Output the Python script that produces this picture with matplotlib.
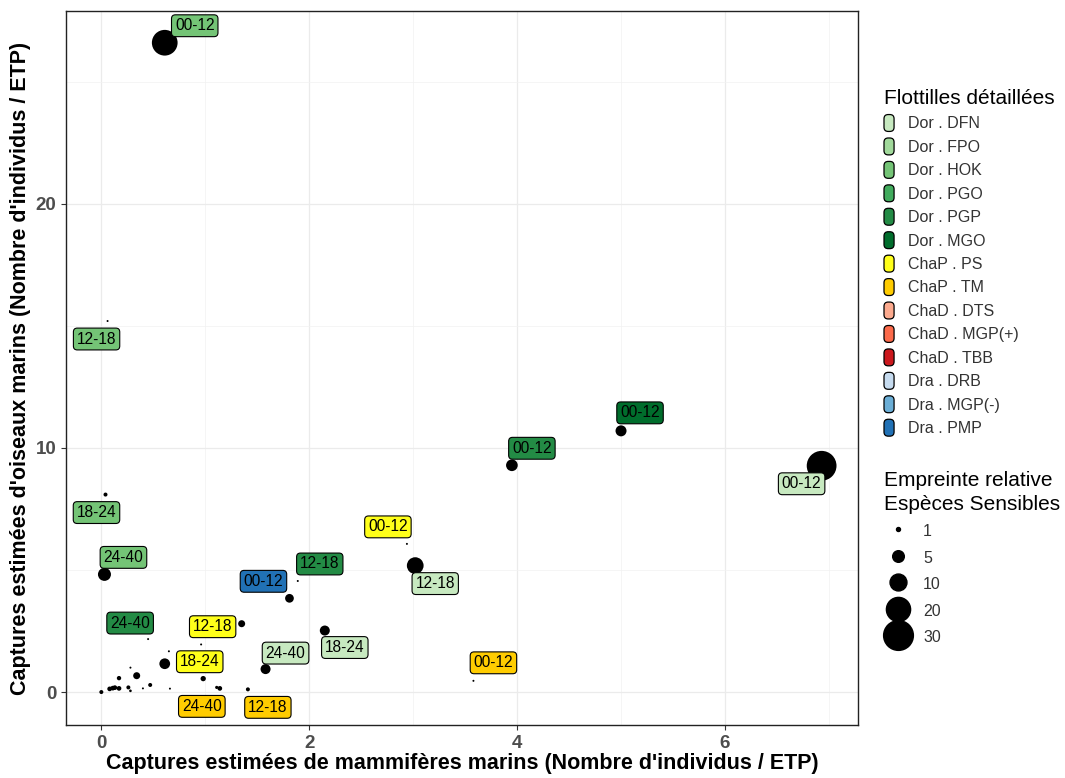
import numpy as np
import matplotlib
matplotlib.use('Agg')
import matplotlib.pyplot as plt
from matplotlib.lines import Line2D
from matplotlib.patches import FancyBboxPatch, Patch
from matplotlib.legend_handler import HandlerBase

plt.rcParams['font.family'] = ['Liberation Sans', 'DejaVu Sans']

# fleets (legend order) and their fill colours
fleets = ['Dor . DFN', 'Dor . FPO', 'Dor . HOK', 'Dor . PGO', 'Dor . PGP', 'Dor . MGO',
          'ChaP . PS', 'ChaP . TM', 'ChaD . DTS', 'ChaD . MGP(+)', 'ChaD . TBB',
          'Dra . DRB', 'Dra . MGP(-)', 'Dra . PMP']
fleet_colors = ['#c7e9c0', '#a1d99b', '#74c476', '#41ab5d', '#238b45', '#006d2c',
                '#ffff1a', '#ffcc00', '#fcaa8e', '#fb6a4a', '#cb181d',
                '#c6dbef', '#6baed6', '#2171b5']

# labelled points: fleet, size class, mammals (x), birds (y), relative footprint
lab_fleet = ['Dor . HOK', 'Dor . DFN', 'Dor . MGO', 'Dor . PGP', 'Dor . DFN', 'ChaP . PS',
             'Dor . DFN', 'Dor . PGP', 'Dra . PMP', 'Dor . DFN', 'ChaP . PS', 'ChaP . PS',
             'ChaP . TM', 'ChaP . TM', 'ChaP . TM', 'Dor . PGP', 'Dor . HOK', 'Dor . HOK',
             'Dor . HOK']
lab_class = ['00-12', '00-12', '00-12', '00-12', '12-18', '00-12',
             '18-24', '12-18', '00-12', '24-40', '12-18', '18-24',
             '24-40', '12-18', '00-12', '24-40', '24-40', '18-24',
             '12-18']
lab_x = [0.61, 6.93, 5.00, 3.95, 3.02, 2.94, 2.15, 1.89, 1.81, 1.58, 1.35, 0.61,
         1.14, 1.41, 3.58, 0.45, 0.03, 0.04, 0.06]
lab_y = [26.6, 9.27, 10.7, 9.29, 5.18, 6.07, 2.52, 4.55, 3.84, 0.94, 2.80, 1.16,
         0.15, 0.11, 0.46, 2.17, 4.82, 8.09, 15.2]
lab_size = [22.5, 30, 4.5, 5, 9.8, 0.6, 3.8, 0.6, 3, 3.8, 2.1, 4.3,
            1.2, 1.0, 0.6, 0.6, 6.1, 1.0, 0.6]

# unlabelled points
pt_x = [0.0, 0.08, 0.11, 0.13, 0.17, 0.17, 0.26, 0.28, 0.28, 0.34, 0.40, 0.47,
        0.65, 0.66, 0.96, 0.98, 1.11]
pt_y = [0.0, 0.13, 0.16, 0.18, 0.15, 0.57, 0.19, 0.05, 1.0, 0.67, 0.15, 0.29,
        1.67, 0.14, 1.95, 0.55, 0.19]
pt_size = [1.0, 1.2, 1.2, 1.2, 1.2, 1.1, 1.0, 0.7, 0.6, 2.1, 0.6, 1.0,
           0.6, 0.6, 0.6, 1.4, 0.8]

size_breaks = [1, 5, 10, 20, 30]

# label placement (pixels, relative to point; y up)
lab_offset = [(30, 17), (-20, -18), (19, 18), (20, 17), (20, -18), (-19, 17),
              (20, -17), (22, 17), (-26, 17), (20, 16), (-29, -3), (35, 2),
              (-18, -18), (20, -18), (20, 18), (-18, 16), (19, 17), (-9, -18),
              (-11, -18)]

DPI = 100


def diam_px(v):
    # area-proportional size scale
    return np.sqrt(np.maximum(30.0 * np.asarray(v, float) - 14.0, 4.0))


def s_pt2(v):
    return (diam_px(v) * 72.0 / DPI) ** 2


class RoundKey(HandlerBase):
    def create_artists(self, legend, orig_handle, xdescent, ydescent, width, height, fontsize, trans):
        p = FancyBboxPatch((-xdescent, -ydescent), width, height,
                           boxstyle='round,pad=0,rounding_size=3',
                           fc=orig_handle.get_facecolor(), ec='black', lw=0.9, transform=trans)
        return [p]


fig = plt.figure(figsize=(10.65, 7.78), dpi=DPI)
ax = fig.add_axes([66 / 1065, 1 - 725 / 778, (858 - 66) / 1065, (725 - 11) / 778])

color_of = dict(zip(fleets, fleet_colors))

ax.scatter(pt_x, pt_y, s=s_pt2(pt_size), color='black', lw=0, zorder=3)
ax.scatter(lab_x, lab_y, s=s_pt2(lab_size), color='black', lw=0, zorder=3)

for f, c, x, y, (dx, dy) in zip(lab_fleet, lab_class, lab_x, lab_y, lab_offset):
    ax.annotate(c, (x, y), xytext=(dx, dy), textcoords='offset pixels',
                ha='center', va='center', fontsize=11.2, color='black', zorder=4,
                bbox=dict(boxstyle='round,pad=0.22,rounding_size=0.25',
                          fc=color_of[f], ec='black', lw=0.8))

ax.set_xlim(-0.34, 7.28)
ax.set_ylim(-1.35, 27.9)
ax.set_xticks([0, 2, 4, 6])
ax.set_xticks([1, 3, 5, 7], minor=True)
ax.set_yticks([0, 10, 20])
ax.set_yticks([5, 15, 25], minor=True)
ax.grid(which='major', color='#ebebeb', lw=0.9)
ax.grid(which='minor', color='#f2f2f2', lw=0.5)
ax.set_axisbelow(True)
ax.tick_params(which='major', length=3.5, color='#333333', labelsize=13.5,
               labelcolor='#4d4d4d', width=0.8)
ax.tick_params(which='minor', length=0)
for t in ax.get_xticklabels() + ax.get_yticklabels():
    t.set_fontweight('bold')
for sp in ax.spines.values():
    sp.set_color('#222222')
    sp.set_linewidth(1.0)

ax.set_xlabel("Captures estimées de mammifères marins (Nombre d'individus / ETP)",
              fontsize=15.5, fontweight='bold', labelpad=1)
ax.set_ylabel("Captures estimées d'oiseaux marins (Nombre d'individus / ETP)",
              fontsize=15.5, fontweight='bold', labelpad=3)

# legend: fleets
handles = [Patch(facecolor=c) for c in fleet_colors]
leg1 = fig.legend(handles, fleets, loc='upper left', bbox_to_anchor=(884 / 1065, 1 - 89 / 778),
                  frameon=False, fontsize=11.5, title='Flottilles détaillées', title_fontsize=15,
                  handler_map={Patch: RoundKey()}, handlelength=0.63, handleheight=1.25,
                  handletextpad=0.85, labelspacing=0.41, alignment='left',
                  borderaxespad=0, borderpad=0)
for t in leg1.get_texts():
    t.set_color('#333333')

# legend: relative footprint
size_handles = [Line2D([], [], ls='none', marker='o', color='black',
                       markersize=float(diam_px(v)) * 72.0 / DPI) for v in size_breaks]
leg2 = fig.legend(size_handles, [str(v) for v in size_breaks], loc='upper left',
                  bbox_to_anchor=(884 / 1065, 1 - 471 / 778), frameon=False, fontsize=11.5,
                  title='Empreinte relative\nEspèces Sensibles', title_fontsize=15,
                  handlelength=1.75, handleheight=1.3, handletextpad=0.7, labelspacing=0.56,
                  alignment='left', borderaxespad=0, borderpad=0)
leg2.get_title().set_linespacing(1.3)
for t in leg2.get_texts():
    t.set_color('#333333')

fig.savefig('out.png', dpi=DPI)
